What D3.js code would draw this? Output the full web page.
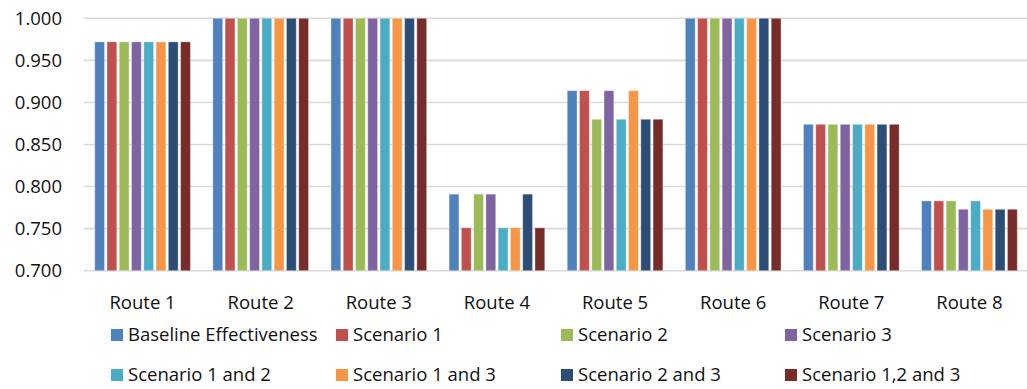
<!DOCTYPE html>
<html>
<head>
<meta charset="utf-8">
<script src="https://cdn.jsdelivr.net/npm/d3@7"></script>
<style>
  html, body { margin: 0; padding: 0; background: #fff; }
  svg { display: block; font-family: "Open Sans", "Noto Sans", sans-serif; }
</style>
</head>
<body>
<svg id="chart" width="1027" height="389"></svg>
<script>
// Route effectiveness under each scenario
const routes = ["Route 1", "Route 2", "Route 3", "Route 4", "Route 5", "Route 6", "Route 7", "Route 8"];
const seriesNames = ["Baseline Effectiveness", "Scenario 1", "Scenario 2", "Scenario 3",
                     "Scenario 1 and 2", "Scenario 1 and 3", "Scenario 2 and 3", "Scenario 1,2 and 3"];
const baseline     = [0.972, 1.000, 1.000, 0.791, 0.914, 1.000, 0.874, 0.783];
const scenario1    = [0.972, 1.000, 1.000, 0.751, 0.914, 1.000, 0.874, 0.783];
const scenario2    = [0.972, 1.000, 1.000, 0.791, 0.880, 1.000, 0.874, 0.783];
const scenario3    = [0.972, 1.000, 1.000, 0.791, 0.914, 1.000, 0.874, 0.773];
const scenario12   = [0.972, 1.000, 1.000, 0.751, 0.880, 1.000, 0.874, 0.783];
const scenario13   = [0.972, 1.000, 1.000, 0.751, 0.914, 1.000, 0.874, 0.773];
const scenario23   = [0.972, 1.000, 1.000, 0.791, 0.880, 1.000, 0.874, 0.773];
const scenario123  = [0.972, 1.000, 1.000, 0.751, 0.880, 1.000, 0.874, 0.773];
const yTicks = [0.70, 0.75, 0.80, 0.85, 0.90, 0.95, 1.00];
const colors = ["#4F81BD", "#C0504D", "#9BBB59", "#8064A2", "#4BACC6", "#F79646", "#2C4D75", "#772C2A"];

const seriesValues = [baseline, scenario1, scenario2, scenario3, scenario12, scenario13, scenario23, scenario123];

const svg = d3.select("#chart");
const plot = { left: 83.5, right: 1028.5, top: 18.3, bottom: 270.7 };
const textColor = "#111111";

const x0 = d3.scaleBand().domain(routes)
  .range([plot.left, plot.right])
  .paddingInner(0.19).paddingOuter(0.095);
const x1 = d3.scaleBand().domain(seriesNames)
  .range([0, x0.bandwidth()])
  .paddingInner(0.2).paddingOuter(0);
const y = d3.scaleLinear().domain([0.7, 1.0]).range([plot.bottom, plot.top]);

// Horizontal gridlines (the 0.700 line doubles as the category axis)
svg.append("g").selectAll("line").data(yTicks).join("line")
  .attr("x1", plot.left).attr("x2", plot.right)
  .attr("y1", d => y(d)).attr("y2", d => y(d))
  .attr("stroke", "#d9d9d9").attr("stroke-width", 1.6);

// Value axis labels
const yAxis = d3.axisLeft(y).tickValues(yTicks).tickFormat(d3.format(".3f")).tickSize(0).tickPadding(0);
const yg = svg.append("g").attr("transform", "translate(62,0)").call(yAxis);
yg.select(".domain").remove();
yg.selectAll("text").attr("font-size", 18.5).attr("fill", textColor)
  .attr("font-family", "'Open Sans', sans-serif");

// Bars
const groups = svg.append("g").selectAll("g").data(routes).join("g")
  .attr("transform", d => `translate(${x0(d)},0)`);
groups.selectAll("rect")
  .data((r, i) => seriesNames.map((s, k) => ({ series: s, k, value: seriesValues[k][i] })))
  .join("rect")
  .attr("x", d => x1(d.series))
  .attr("width", x1.bandwidth())
  .attr("y", d => y(d.value))
  .attr("height", d => y(0.7) - y(d.value))
  .attr("fill", d => colors[d.k])
  .attr("stroke", "#ffffff").attr("stroke-opacity", 0.35).attr("stroke-width", 1);

// Category axis labels
const xAxis = d3.axisBottom(x0).tickSize(0).tickPadding(0);
const xg = svg.append("g").attr("transform", "translate(0,296)").call(xAxis);
xg.select(".domain").remove();
xg.selectAll("text").attr("font-size", 18.5).attr("fill", textColor)
  .attr("font-family", "'Open Sans', sans-serif");

// Legend: four columns, two rows
const legendCols = [111, 336, 561, 785];
const legendRows = [335, 375];
const legend = svg.append("g").selectAll("g").data(seriesNames).join("g")
  .attr("transform", (d, i) => `translate(${legendCols[i % 4]},${legendRows[Math.floor(i / 4)]})`);
legend.append("rect")
  .attr("x", 0).attr("y", -6).attr("width", 12).attr("height", 12)
  .attr("fill", (d, i) => colors[i]);
legend.append("text")
  .attr("x", 17).attr("y", 0).attr("dy", "0.35em")
  .attr("font-size", 18.5).attr("fill", textColor)
  .text(d => d);
</script>
</body>
</html>
